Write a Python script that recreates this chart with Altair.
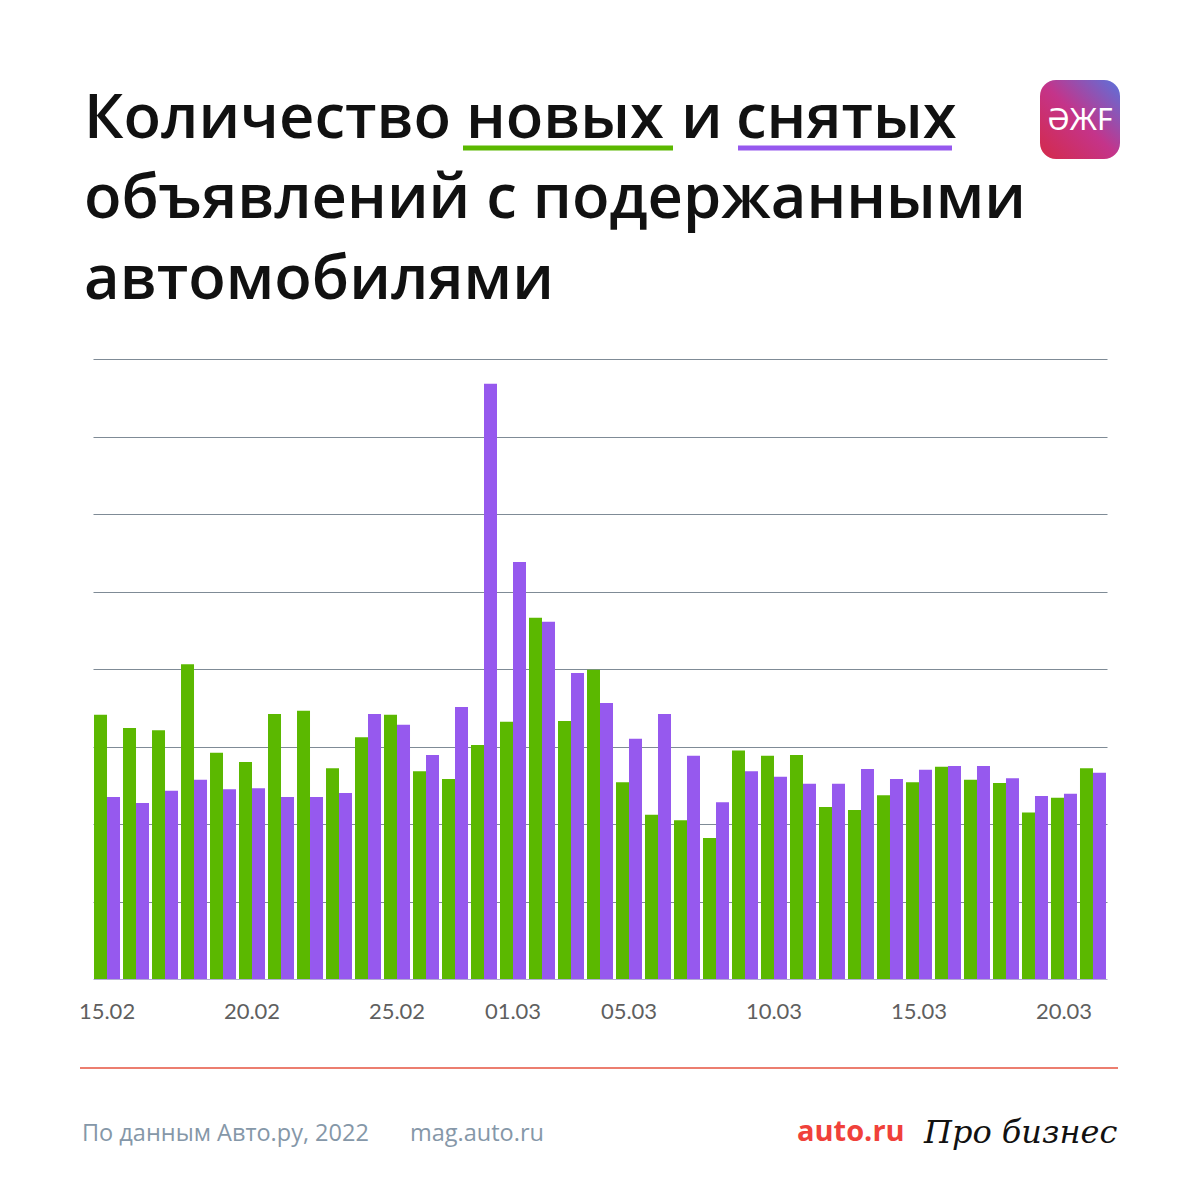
import altair as alt
import pandas as pd

# ---- data (units = grid steps) ----
dates = ["15.02", "16.02", "17.02", "18.02", "19.02", "20.02", "21.02", "22.02", "23.02",
         "24.02", "25.02", "26.02", "27.02", "28.02", "01.03", "02.03", "03.03", "04.03",
         "05.03", "06.03", "07.03", "08.03", "09.03", "10.03", "11.03", "12.03", "13.03",
         "14.03", "15.03", "16.03", "17.03", "18.03", "19.03", "20.03", "21.03"]
new_ads = [3.41, 3.24, 3.21, 4.06, 2.92, 2.80, 3.42, 3.46, 2.72, 3.12, 3.41, 2.68, 2.58,
           3.02, 3.32, 4.66, 3.33, 3.99, 2.54, 2.12, 2.05, 1.82, 2.95, 2.88, 2.89, 2.22,
           2.18, 2.37, 2.54, 2.74, 2.57, 2.53, 2.15, 2.34, 2.72]
removed_ads = [2.35, 2.27, 2.43, 2.57, 2.45, 2.46, 2.35, 2.35, 2.40, 3.42, 3.28, 2.89, 3.51,
               7.68, 5.38, 4.61, 3.95, 3.56, 3.10, 3.42, 2.88, 2.28, 2.68, 2.61, 2.52, 2.52,
               2.71, 2.58, 2.70, 2.75, 2.75, 2.59, 2.36, 2.39, 2.66]
series_names = ["новые", "снятые"]
series_colors = ["#5bb800", "#9659ee"]
shown_dates = ["15.02", "20.02", "25.02", "01.03", "05.03", "10.03", "15.03", "20.03"]
grid_values = [1, 2, 3, 4, 5, 6, 7, 8]

title_line1 = ["Количество", "новых", "и", "снятых"]
title_line2 = "объявлений с подержанными"
title_line3 = "автомобилями"
source_text = "По данным Авто.ру, 2022"
site_text = "mag.auto.ru"
brand_text = "auto.ru"
brand2_text = "Про бизнес"
logo_text = "ƏЖF"

rows = []
for d, a, b in zip(dates, new_ads, removed_ads):
    rows.append({"date": d, "series": series_names[0], "value": a})
    rows.append({"date": d, "series": series_names[1], "value": b})
df = pd.DataFrame(rows)

FONT = "Lato"
TFONT = "Open Sans"
OX, OY = 93, 359  # plot origin in page coordinates


def px(x):
    return x - OX


def py(y):
    return y - OY


bars = alt.Chart(df).mark_bar().encode(
    x=alt.X("date:O", sort=dates,
            scale=alt.Scale(paddingInner=3 / 29, paddingOuter=0.035),
            axis=alt.Axis(values=shown_dates, labelAngle=0, ticks=False, domain=True,
                          domainColor="#b3aed3", domainWidth=1.2, grid=False, title=None,
                          labelFont=FONT, labelFontSize=22, labelColor="#5f5f5f",
                          labelPadding=22)),
    xOffset=alt.XOffset("series:N", sort=series_names,
                        scale=alt.Scale(paddingInner=0, paddingOuter=0)),
    y=alt.Y("value:Q", scale=alt.Scale(domain=[0, 8], nice=False, zero=True),
            axis=alt.Axis(values=grid_values, grid=True, gridColor="#7f8b96",
                          gridWidth=1.2, labels=False, ticks=False, domain=False,
                          title=None)),
    color=alt.Color("series:N", sort=series_names,
                    scale=alt.Scale(domain=series_names, range=series_colors),
                    legend=None),
)


def label(text, x, y, size, color, weight=400, font=FONT, style="normal", align="left"):
    return alt.Chart(pd.DataFrame({"t": [text]})).mark_text(
        align=align, baseline="alphabetic", fontSize=size, font=font,
        fontWeight=weight, fontStyle=style, color=color,
    ).encode(x=alt.value(px(x)), y=alt.value(py(y)), text="t:N")


def hline(x1, x2, y, color, width):
    return alt.Chart(pd.DataFrame({"t": [0]})).mark_rule(
        color=color, strokeWidth=width
    ).encode(x=alt.value(px(x1)), x2=alt.value(px(x2)), y=alt.value(py(y)))


TS = 61.5
TW = 600
title_layers = [
    label(title_line1[0], 84, 138, TS, "#111111", TW, TFONT),
    label(title_line1[1], 466, 138, TS, "#111111", TW, TFONT),
    label(title_line1[2], 681, 138, TS, "#111111", TW, TFONT),
    label(title_line1[3], 736, 138, TS, "#111111", TW, TFONT),
    hline(463, 673, 148, series_colors[0], 5),
    hline(738, 952, 148, series_colors[1], 5),
    label(title_line2, 84, 218, TS, "#111111", TW, TFONT),
    label(title_line3, 84, 299, TS, "#111111", TW, TFONT),
]

logo_bg = alt.Chart(pd.DataFrame({"t": [0]})).mark_rect(
    cornerRadius=16,
    color=alt.LinearGradient(
        gradient="linear", x1=0, y1=1, x2=1, y2=0,
        stops=[alt.GradientStop(color="#d42a4a", offset=0),
               alt.GradientStop(color="#c4348a", offset=0.5),
               alt.GradientStop(color="#5a72dc", offset=1)]),
).encode(x=alt.value(px(1040)), x2=alt.value(px(1120)),
         y=alt.value(py(80)), y2=alt.value(py(159)))
logo_txt = alt.Chart(pd.DataFrame({"t": [logo_text]})).mark_text(
    align="center", baseline="middle", fontSize=30, font="Noto Sans",
    fontWeight=400, color="white",
).encode(x=alt.value(px(1080)), y=alt.value(py(121)), text="t:N")

footer = [
    hline(80, 1118, 1068, "#e6533f", 1.5),
    label(source_text, 82, 1141, 23.5, "#8597a8", 400, TFONT),
    label(site_text, 410, 1141, 23.5, "#8597a8", 400, TFONT),
    label(brand_text, 797, 1141, 29, "#f0413a", 700, TFONT),
    label(brand2_text, 924, 1143, 32, "#111111", 400, font="DejaVu Serif", style="italic"),
]

chart = alt.layer(bars, *title_layers, logo_bg, logo_txt, *footer).properties(
    width=1014, height=620,
    padding={"left": 85, "top": 351, "right": 85, "bottom": 205},
    autosize=alt.AutoSizeParams(type="none"),
    background="white",
).configure_view(stroke=None)

chart.save("out.html", embed_options={"renderer": "svg", "actions": False})
